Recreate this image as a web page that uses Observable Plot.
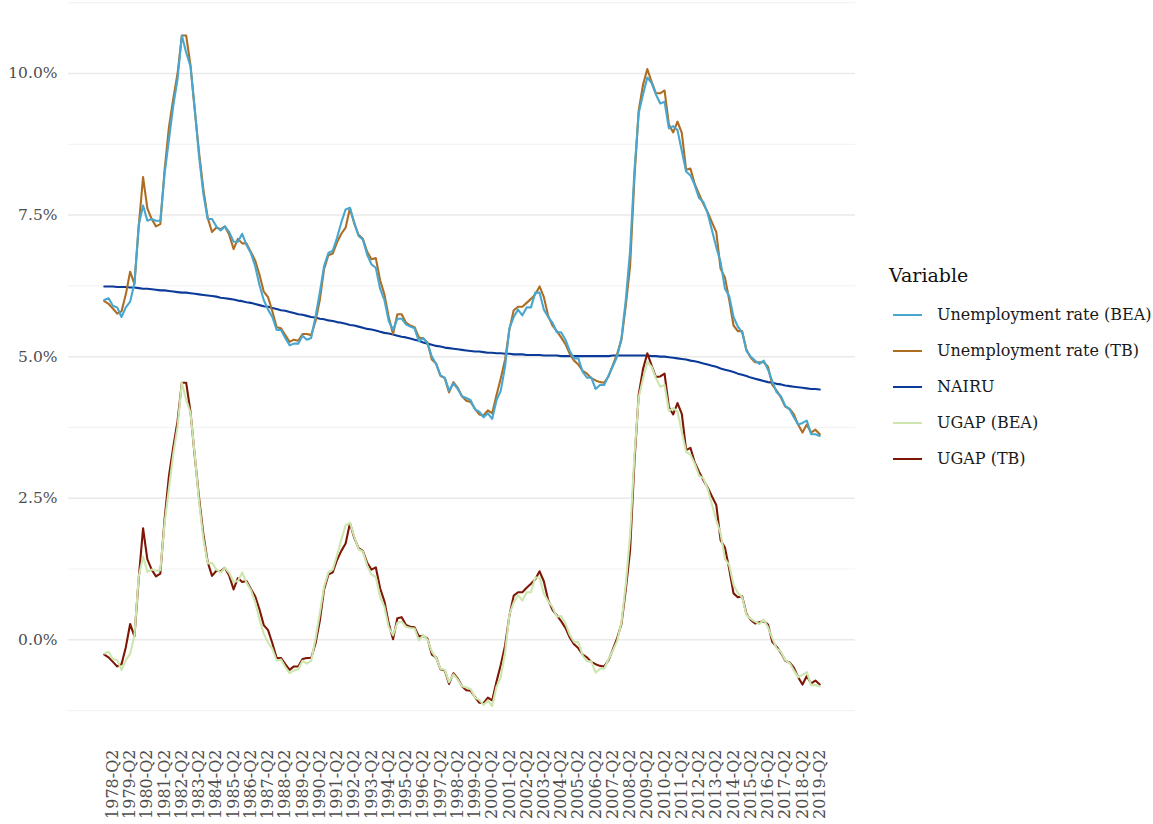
<!DOCTYPE html>
<html><head><meta charset="utf-8">
<script src="https://cdn.jsdelivr.net/npm/d3@7"></script>
<script src="https://cdn.jsdelivr.net/npm/@observablehq/plot@0.6"></script>
<style>
html,body{margin:0;padding:0;background:#fff;}
#wrap{position:relative;width:1153px;height:824px;overflow:hidden;font-family:"DejaVu Serif",serif;}
#chart{position:absolute;left:0;top:0;}
.lg{position:absolute;white-space:nowrap;color:#1a1a1a;}
.sw{position:absolute;height:2px;width:29px;}
</style></head><body><div id="wrap"><div id="chart"></div></div>
<script>
// ---- tick labels (one per year, Q2) ----
const tickLabels = ["1978-Q2","1979-Q2","1980-Q2","1981-Q2","1982-Q2","1983-Q2","1984-Q2","1985-Q2","1986-Q2","1987-Q2",
"1988-Q2","1989-Q2","1990-Q2","1991-Q2","1992-Q2","1993-Q2","1994-Q2","1995-Q2","1996-Q2","1997-Q2",
"1998-Q2","1999-Q2","2000-Q2","2001-Q2","2002-Q2","2003-Q2","2004-Q2","2005-Q2","2006-Q2","2007-Q2",
"2008-Q2","2009-Q2","2010-Q2","2011-Q2","2012-Q2","2013-Q2","2014-Q2","2015-Q2","2016-Q2","2017-Q2",
"2018-Q2","2019-Q2"];
const yTicks = [0, 2.5, 5, 7.5, 10];
const yMinor = [-1.25, 1.25, 3.75, 6.25, 8.75, 11.25];

// ---- series (quarterly, 1977-Q4 .. 2019-Q2) ----
const urBEA = [6.00,6.03,5.90,5.87,5.70,5.87,5.97,6.30,7.33,7.67,
7.40,7.43,7.40,7.40,8.23,8.83,9.43,9.90,10.67,10.37,
10.13,9.37,8.53,7.87,7.43,7.43,7.30,7.23,7.30,7.20,
7.03,7.03,7.17,6.97,6.83,6.60,6.27,6.00,5.83,5.70,
5.47,5.47,5.33,5.20,5.23,5.23,5.37,5.30,5.33,5.70,
6.13,6.60,6.83,6.87,7.10,7.37,7.60,7.63,7.37,7.13,
7.07,6.80,6.63,6.57,6.20,6.00,5.63,5.47,5.67,5.67,
5.57,5.53,5.50,5.27,5.33,5.23,5.00,4.87,4.67,4.63,
4.40,4.53,4.43,4.30,4.27,4.23,4.07,4.03,3.93,4.00,
3.90,4.23,4.40,4.83,5.50,5.70,5.83,5.73,5.87,5.87,
6.13,6.13,5.83,5.70,5.60,5.43,5.43,5.30,5.10,4.97,
4.97,4.73,4.63,4.63,4.43,4.50,4.50,4.67,4.83,5.00,
5.33,6.00,6.87,8.27,9.30,9.63,9.93,9.83,9.63,9.47,
9.50,9.03,9.07,9.00,8.63,8.27,8.20,8.03,7.80,7.73,
7.53,7.23,6.93,6.67,6.20,6.07,5.70,5.53,5.43,5.10,
5.00,4.93,4.87,4.93,4.77,4.57,4.37,4.30,4.13,4.07,
3.93,3.80,3.83,3.87,3.63,3.63,3.60];
const urTB = [5.98,5.93,5.85,5.76,5.80,6.10,6.50,6.28,7.30,8.17,
7.62,7.43,7.30,7.34,8.30,9.05,9.55,10.00,10.67,10.67,
10.15,9.35,8.60,7.95,7.45,7.20,7.28,7.25,7.30,7.15,
6.90,7.08,7.00,7.00,6.85,6.70,6.45,6.15,6.05,5.80,
5.52,5.50,5.38,5.26,5.30,5.28,5.40,5.40,5.38,5.62,
6.00,6.55,6.79,6.82,7.02,7.17,7.28,7.62,7.35,7.15,
7.08,6.85,6.72,6.74,6.35,6.10,5.70,5.40,5.75,5.75,
5.60,5.55,5.52,5.34,5.32,5.25,4.95,4.88,4.66,4.62,
4.37,4.55,4.45,4.30,4.22,4.20,4.08,3.98,3.96,4.05,
4.00,4.32,4.62,4.95,5.48,5.82,5.88,5.88,5.95,6.02,
6.10,6.24,6.05,5.72,5.55,5.45,5.34,5.22,5.05,4.93,
4.86,4.75,4.70,4.62,4.58,4.55,4.54,4.65,4.85,5.05,
5.30,5.90,6.60,8.15,9.35,9.80,10.08,9.85,9.65,9.65,
9.70,9.10,8.96,9.15,8.95,8.30,8.32,8.05,7.87,7.70,
7.55,7.37,7.20,6.55,6.40,6.00,5.55,5.45,5.45,5.12,
4.98,4.90,4.90,4.90,4.82,4.50,4.40,4.28,4.12,4.08,
3.98,3.80,3.66,3.80,3.66,3.71,3.63];
const nairu = [6.24,6.24,6.24,6.23,6.23,6.23,6.22,6.22,6.21,6.20,
6.20,6.19,6.18,6.17,6.17,6.16,6.15,6.14,6.13,6.13,
6.12,6.11,6.10,6.09,6.08,6.07,6.06,6.04,6.03,6.02,
6.01,5.99,5.98,5.96,5.95,5.93,5.91,5.89,5.88,5.86,
5.84,5.82,5.81,5.79,5.77,5.75,5.74,5.72,5.70,5.69,
5.67,5.66,5.64,5.63,5.61,5.60,5.58,5.56,5.55,5.53,
5.51,5.49,5.48,5.46,5.44,5.42,5.41,5.39,5.37,5.35,
5.34,5.32,5.30,5.28,5.25,5.23,5.21,5.19,5.18,5.16,
5.15,5.14,5.13,5.12,5.11,5.10,5.09,5.09,5.08,5.07,
5.07,5.06,5.06,5.05,5.05,5.04,5.04,5.04,5.03,5.03,
5.03,5.03,5.02,5.02,5.02,5.02,5.01,5.01,5.01,5.01,
5.01,5.01,5.01,5.01,5.01,5.01,5.01,5.01,5.02,5.02,
5.02,5.02,5.02,5.02,5.02,5.02,5.02,5.01,5.01,5.00,
5.00,4.99,4.98,4.97,4.96,4.95,4.93,4.92,4.90,4.88,
4.86,4.84,4.82,4.79,4.77,4.75,4.73,4.70,4.68,4.66,
4.63,4.61,4.59,4.57,4.55,4.54,4.52,4.51,4.49,4.48,
4.47,4.46,4.45,4.44,4.43,4.43,4.42];
const ugapBEA = [-0.24,-0.21,-0.34,-0.36,-0.53,-0.36,-0.25,0.08,1.12,1.47,
1.20,1.24,1.22,1.23,2.06,2.67,3.28,3.76,4.54,4.24,
4.01,3.26,2.43,1.78,1.35,1.36,1.24,1.19,1.27,1.18,
1.02,1.04,1.19,1.01,0.88,0.67,0.36,0.11,-0.05,-0.16,
-0.37,-0.35,-0.48,-0.59,-0.54,-0.52,-0.37,-0.42,-0.37,0.01,
0.46,0.94,1.19,1.24,1.49,1.77,2.02,2.07,1.82,1.60,
1.56,1.31,1.15,1.11,0.76,0.58,0.22,0.08,0.30,0.32,
0.23,0.21,0.20,-0.01,0.08,0.00,-0.21,-0.32,-0.51,-0.53,
-0.75,-0.61,-0.70,-0.82,-0.84,-0.87,-1.02,-1.06,-1.15,-1.07,
-1.17,-0.83,-0.66,-0.22,0.45,0.66,0.79,0.69,0.84,0.84,
1.10,1.10,0.81,0.68,0.58,0.41,0.42,0.29,0.09,-0.04,
-0.04,-0.28,-0.38,-0.38,-0.58,-0.51,-0.51,-0.34,-0.19,-0.02,
0.31,0.98,1.85,3.25,4.28,4.61,4.91,4.82,4.62,4.47,
4.50,4.04,4.09,4.03,3.67,3.32,3.27,3.11,2.90,2.85,
2.67,2.39,2.11,1.88,1.43,1.32,0.97,0.83,0.75,0.44,
0.37,0.32,0.28,0.36,0.22,0.03,-0.15,-0.21,-0.36,-0.41,
-0.54,-0.66,-0.62,-0.57,-0.80,-0.80,-0.82];
const ugapTB = [-0.26,-0.31,-0.39,-0.47,-0.43,-0.13,0.28,0.06,1.09,1.97,
1.42,1.24,1.12,1.17,2.13,2.89,3.40,3.86,4.54,4.54,
4.03,3.24,2.50,1.86,1.37,1.13,1.22,1.21,1.27,1.13,
0.89,1.09,1.02,1.04,0.90,0.77,0.54,0.26,0.17,-0.06,
-0.32,-0.32,-0.43,-0.53,-0.47,-0.47,-0.34,-0.32,-0.32,-0.07,
0.33,0.89,1.15,1.19,1.41,1.57,1.70,2.06,1.80,1.62,
1.57,1.36,1.24,1.28,0.91,0.68,0.29,0.01,0.38,0.40,
0.26,0.23,0.22,0.06,0.07,0.02,-0.26,-0.31,-0.52,-0.54,
-0.78,-0.59,-0.68,-0.82,-0.89,-0.90,-1.01,-1.11,-1.12,-1.02,
-1.07,-0.74,-0.44,-0.10,0.43,0.78,0.84,0.84,0.92,0.99,
1.07,1.21,1.03,0.70,0.53,0.43,0.33,0.21,0.04,-0.08,
-0.15,-0.26,-0.31,-0.39,-0.43,-0.46,-0.47,-0.36,-0.17,0.03,
0.28,0.88,1.58,3.13,4.33,4.78,5.06,4.84,4.64,4.65,
4.70,4.11,3.98,4.18,3.99,3.35,3.39,3.13,2.97,2.82,
2.69,2.53,2.38,1.76,1.63,1.25,0.82,0.75,0.77,0.46,
0.35,0.29,0.31,0.33,0.27,-0.04,-0.12,-0.23,-0.37,-0.40,
-0.49,-0.66,-0.79,-0.64,-0.77,-0.72,-0.79];

const seriesNames = ["Unemployment rate (BEA)", "Unemployment rate (TB)", "NAIRU", "UGAP (BEA)", "UGAP (TB)"];
const seriesValues = [urBEA, urTB, nairu, ugapBEA, ugapTB];
const seriesColors = ["#47a7d0", "#ad6e24", "#0b3a98", "#cde6ae", "#7e1706"];
const drawOrder = [2, 1, 0, 4, 3];

// x positions: quarter index; the first quarter (1977-Q4) is index 0, labels sit on each Q2
const tickPos = tickLabels.map((_, k) => 2 + 4 * k);
const labelAt = new Map(tickPos.map((p, k) => [p, tickLabels[k]]));

const lineMarks = drawOrder.map(s => Plot.line(
  seriesValues[s].map((v, i) => ({i, v})),
  {x: "i", y: "v", stroke: seriesColors[s], strokeWidth: 2.1}
));

const chart = Plot.plot({
  width: 860, height: 824,
  marginLeft: 68, marginRight: 5, marginTop: 0, marginBottom: 84,
  style: {fontFamily: '"DejaVu Serif", serif', fontSize: "15px", background: "white", overflow: "visible"},
  x: {type: "linear", domain: [-8.3, 174.3]},
  y: {domain: [-1.778, 11.289]},
  marks: [
    Plot.ruleY(yMinor, {stroke: "#efefef", strokeWidth: 0.9}),
    Plot.ruleY(yTicks, {stroke: "#e9e9e9", strokeWidth: 1.5}),
    ...lineMarks,
    Plot.axisY(yTicks, {tickSize: 0, tickPadding: 11, tickFormat: d => d.toFixed(1) + "%", fill: "#4d4d4d", fontSize: 15.5, label: null}),
    Plot.axisX(tickPos, {tickSize: 0, tickPadding: 9, tickRotate: -90, tickFormat: d => labelAt.get(d), fill: "#4d4d4d", fontSize: 16, label: null})
  ]
});
document.getElementById("chart").appendChild(chart);

// ---- legend ----
const wrap = document.getElementById("wrap");
const title = document.createElement("div");
title.className = "lg";
title.textContent = "Variable";
Object.assign(title.style, {left: "889px", top: "263px", fontSize: "19px", lineHeight: "24px", color: "#111"});
wrap.appendChild(title);
seriesNames.forEach((name, k) => {
  const cy = 315 + k * 36.1;
  const sw = document.createElement("div");
  sw.className = "sw";
  Object.assign(sw.style, {left: "893px", top: (cy - 1) + "px", background: seriesColors[k]});
  wrap.appendChild(sw);
  const t = document.createElement("div");
  t.className = "lg";
  t.textContent = name;
  Object.assign(t.style, {left: "937px", top: (cy - 10) + "px", fontSize: "16px", lineHeight: "20px"});
  wrap.appendChild(t);
});
</script></body></html>
